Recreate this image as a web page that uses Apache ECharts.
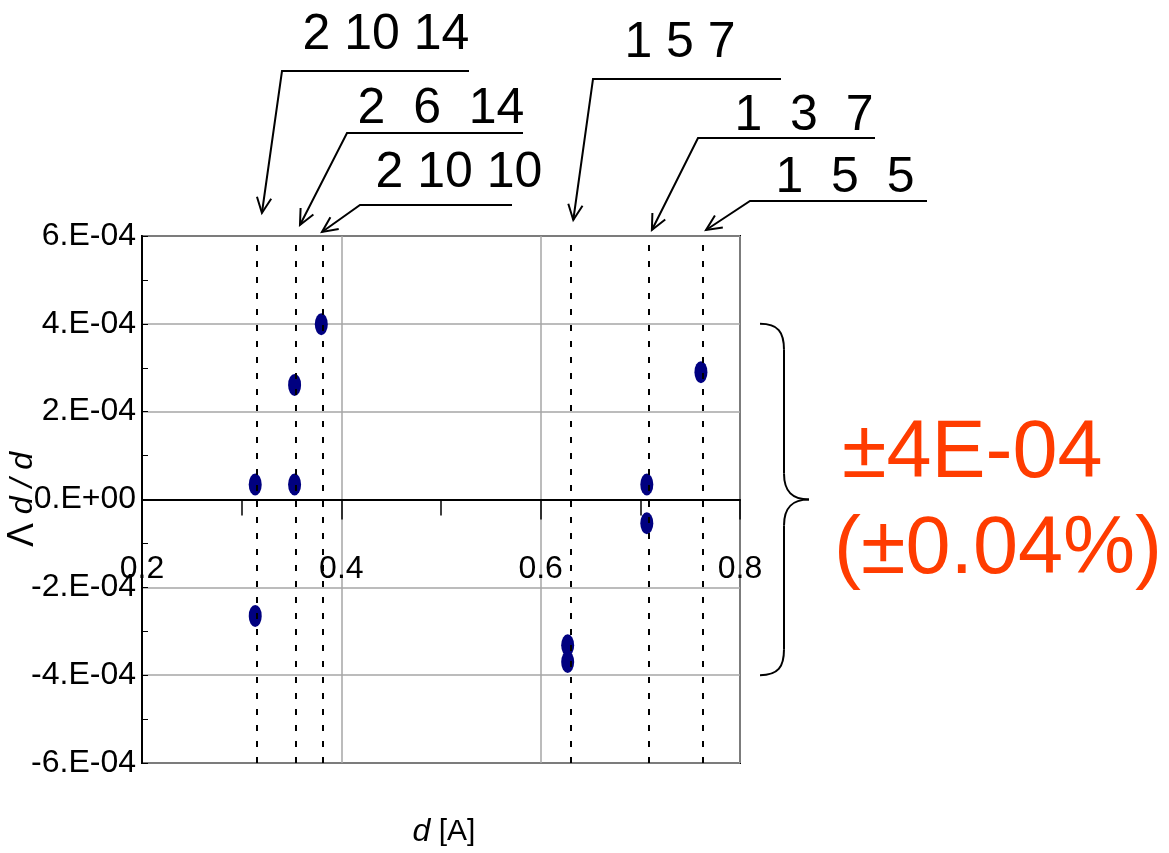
<!DOCTYPE html>
<html>
<head>
<meta charset="utf-8">
<script src="https://cdn.jsdelivr.net/npm/echarts@6/dist/echarts.min.js"></script>
<style>
html,body{margin:0;padding:0;background:#fff}
#main{width:1169px;height:853px}
</style>
</head>
<body>
<div id="main"></div>
<script>
// peak positions (dashed lines) and their hkl
const peakD = [0.3153, 0.3545, 0.3816, 0.6297, 0.7086, 0.7629];
const peakHkl = ['2 10 14', '2  6  14', '2 10 10', '1 5 7', '1  3  7', '1  5  5'];

// measured strain points
const pointD = [0.3136, 0.3136, 0.3531, 0.3531, 0.3799, 0.6271, 0.6271, 0.7065, 0.7065, 0.7608];
const pointStrain = [0.34e-4, -2.65e-4, 2.61e-4, 0.34e-4, 3.99e-4, -3.32e-4, -3.70e-4, 0.34e-4, -0.54e-4, 2.9e-4];

const xTickValues = [0.2, 0.4, 0.6, 0.8];
const xTickLabels = ['0.2', '0.4', '0.6', '0.8'];
const yTickValues = [-6e-4, -4e-4, -2e-4, 0, 2e-4, 4e-4, 6e-4];
const yTickLabels = ['-6.E-04', '-4.E-04', '-2.E-04', '0.E+00', '2.E-04', '4.E-04', '6.E-04'];

const bandLimit = 4e-4;
const bandText = ['±4E-04', '(±0.04%)'];

// callout layout (pixels): elbow, shelf end, text centre, arrow tip tweak
const calloutLayout = [
  {ex: 282, ey: 71, sx: 469, tx: 386, ty: 35, dx: 5, gap: 23},
  {ex: 347, ey: 133, sx: 523, tx: 441, ty: 109, dx: 4, gap: 11},
  {ex: 360, ey: 205, sx: 512, tx: 459, ty: 173, dx: -1, gap: 4},
  {ex: 593, ey: 79, sx: 781, tx: 680, ty: 43, dx: 3, gap: 16},
  {ex: 698, ey: 138, sx: 875, tx: 804, ty: 116, dx: 3, gap: 6},
  {ex: 750, ey: 201, sx: 927, tx: 845, ty: 178, dx: 3, gap: 6}
];

const sans = '"Liberation Sans", Arial, sans-serif';

function pick(values, labels, v) {
  const i = values.findIndex(t => Math.abs(t - v) < 1e-9);
  return i < 0 ? '' : labels[i];
}

const chart = echarts.init(document.getElementById('main'));

chart.setOption({
  animation: false,
  backgroundColor: '#fff',
  grid: {
    left: 142, right: 429, top: 236, bottom: 90,
    show: true, borderColor: '#000', borderWidth: 2,
    outerBoundsMode: 'none'
  },
  xAxis: {
    type: 'value',
    position: 'bottom',
    min: 0.2, max: 0.8, interval: 0.2,
    axisLine: {onZero: false, lineStyle: {color: '#000', width: 2}},
    axisTick: {show: true, inside: false, length: 20, lineStyle: {color: '#000', width: 1.5}},
    minorTick: {show: true, splitNumber: 2, length: 16, lineStyle: {color: '#000', width: 1.5}},
    splitLine: {show: true, lineStyle: {color: '#a6a6a6', width: 1.5}},
    axisLabel: {
      margin: 54,
      fontFamily: sans, fontSize: 32, color: '#000',
      formatter: v => pick(xTickValues, xTickLabels, v)
    }
  },
  yAxis: {
    type: 'value',
    min: -6e-4, max: 6e-4, interval: 2e-4,
    axisLine: {onZero: false, lineStyle: {color: '#000', width: 2}},
    axisTick: {show: true, inside: true, length: 6, lineStyle: {color: '#000'}},
    minorTick: {show: true, splitNumber: 2, length: 6, lineStyle: {color: '#000'}},
    splitLine: {show: true, lineStyle: {color: '#a6a6a6', width: 1.5}},
    axisLabel: {
      margin: 6,
      fontFamily: sans, fontSize: 32, color: '#000',
      formatter: v => pick(yTickValues, yTickLabels, v)
    },
    name: '{n|Λ} {i|d} {i|/} {i|d}',
    nameLocation: 'middle',
    nameRotate: 90,
    nameGap: 101,
    nameMoveOverlap: false,
    nameTextStyle: {
      fontFamily: sans, fontSize: 32, color: '#000',
      rich: {
        n: {fontFamily: sans, fontSize: 36, color: '#000'},
        i: {fontFamily: sans, fontSize: 32, fontStyle: 'italic', color: '#000'}
      }
    }
  },
  series: [
    {
      type: 'line',
      data: [],
      z: 1,
      silent: true,
      markLine: {
        silent: true,
        symbol: 'none',
        precision: 5,
        label: {show: false},
        lineStyle: {color: '#000', type: [6, 10], width: 2},
        data: peakD.map(d => ({xAxis: d}))
      }
    },
    {
      type: 'scatter',
      z: 3,
      symbol: 'circle',
      symbolSize: [13, 22],
      itemStyle: {color: '#000080', opacity: 1},
      data: pointD.map((d, i) => [d, pointStrain[i]])
    }
  ]
});

// annotations placed through the chart's own scales
const yTop = chart.convertToPixel({gridIndex: 0}, [0.2, 6e-4])[1];
const yBottom = chart.convertToPixel({gridIndex: 0}, [0.2, -6e-4])[1];
const yUp = chart.convertToPixel({gridIndex: 0}, [0.2, bandLimit])[1];
const yMid = chart.convertToPixel({gridIndex: 0}, [0.2, 0])[1];
const yDn = chart.convertToPixel({gridIndex: 0}, [0.2, -bandLimit])[1];

const graphics = [];
peakD.forEach((d, i) => {
  const L = calloutLayout[i];
  const tipX = chart.convertToPixel({gridIndex: 0}, [d, 0])[0] + L.dx;
  const tipY = yTop - L.gap;
  graphics.push({
    type: 'polyline',
    shape: {points: [[L.sx, L.ey], [L.ex, L.ey], [tipX, tipY]]},
    style: {stroke: '#000', lineWidth: 2, fill: null}
  });
  const vx = tipX - L.ex, vy = tipY - L.ey;
  const len = Math.sqrt(vx * vx + vy * vy);
  const ux = vx / len, uy = vy / len;
  const a = 25 * Math.PI / 180, h = 17;
  const p1 = [tipX - h * (ux * Math.cos(a) - uy * Math.sin(a)), tipY - h * (ux * Math.sin(a) + uy * Math.cos(a))];
  const p2 = [tipX - h * (ux * Math.cos(a) + uy * Math.sin(a)), tipY - h * (-ux * Math.sin(a) + uy * Math.cos(a))];
  graphics.push({
    type: 'polyline',
    shape: {points: [p1, [tipX, tipY], p2]},
    style: {stroke: '#000', lineWidth: 2, fill: null}
  });
  graphics.push({
    type: 'text',
    style: {
      text: peakHkl[i], x: L.tx, y: L.ty,
      align: 'center', verticalAlign: 'middle',
      font: '50px ' + sans, fill: '#000'
    }
  });
});

// curly brace spanning ±4E-04
const bx = 784, bl = 760, bt = 809;
const braceStyle = {stroke: '#000', lineWidth: 2, fill: null};
graphics.push(
  {type: 'bezierCurve', shape: {x1: bl, y1: yUp, cpx1: bl + 18, cpy1: yUp, cpx2: bx, cpy2: yUp + 8, x2: bx, y2: yUp + 26}, style: braceStyle},
  {type: 'line', shape: {x1: bx, y1: yUp + 26, x2: bx, y2: yMid - 26}, style: braceStyle},
  {type: 'bezierCurve', shape: {x1: bx, y1: yMid - 26, cpx1: bx, cpy1: yMid - 8, cpx2: bx + 8, cpy2: yMid, x2: bt, y2: yMid}, style: braceStyle},
  {type: 'bezierCurve', shape: {x1: bt, y1: yMid, cpx1: bx + 8, cpy1: yMid, cpx2: bx, cpy2: yMid + 8, x2: bx, y2: yMid + 26}, style: braceStyle},
  {type: 'line', shape: {x1: bx, y1: yMid + 26, x2: bx, y2: yDn - 26}, style: braceStyle},
  {type: 'bezierCurve', shape: {x1: bx, y1: yDn - 26, cpx1: bx, cpy1: yDn - 8, cpx2: bl + 18, cpy2: yDn, x2: bl, y2: yDn}, style: braceStyle}
);
graphics.push({
  type: 'text',
  style: {text: bandText[0], x: 842, y: 455, verticalAlign: 'middle', font: '81px ' + sans, fill: '#ff3c00'}
});
graphics.push({
  type: 'text',
  style: {text: bandText[1], x: 834, y: 551, verticalAlign: 'middle', font: '81px ' + sans, fill: '#ff3c00'}
});
graphics.push({
  type: 'text',
  style: {
    text: '{i|d} [A]', x: 444, y: 832, align: 'center', verticalAlign: 'middle',
    font: '30px ' + sans, fill: '#000',
    rich: {i: {fontStyle: 'italic', fontSize: 32, fontFamily: sans, fill: '#000'}}
  }
});

// move the x axis (line, ticks, labels) up onto the zero line
chart.setOption({
  xAxis: {offset: yMid - yBottom},
  graphic: graphics
});
</script>
</body>
</html>
